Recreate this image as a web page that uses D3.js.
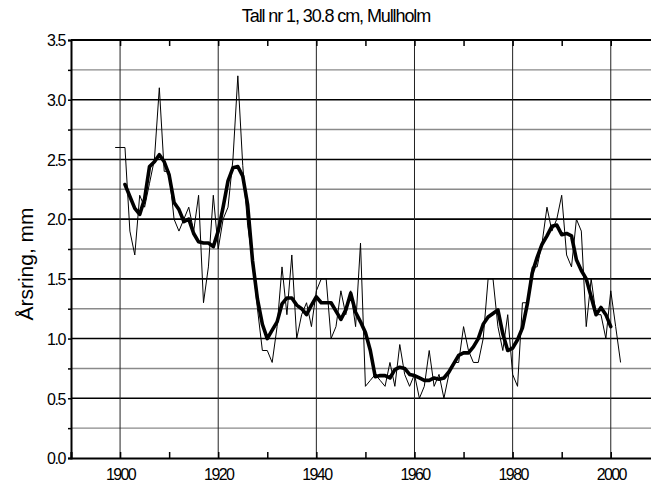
<!DOCTYPE html>
<html>
<head>
<meta charset="utf-8">
<script src="https://cdn.jsdelivr.net/npm/d3@7"></script>
<style>
  html, body { margin: 0; padding: 0; background: #fff; }
  svg { display: block; font-family: "Liberation Sans", Arial, sans-serif; }
</style>
</head>
<body>
<svg id="chart" width="651" height="484"></svg>
<script>
// Annual ring width (mm), first and last measured year
const ringStart = 1899;
const ringWidth = [
  2.6, 2.6, 2.6, 1.9, 1.7, 2.2, 2.1, 2.3, 2.5, 3.1,   // 1899-1908
  2.4, 2.4, 2.0, 1.9, 2.0, 2.1, 1.9, 2.2, 1.3, 1.6,   // 1909-1918
  2.2, 1.75, 2.0, 2.1, 2.5, 3.2, 2.45, 1.95, 1.65, 1.25, // 1919-1928
  0.9, 0.9, 0.8, 1.1, 1.6, 1.2, 1.7, 1.0, 1.2, 1.3,   // 1929-1938
  1.1, 1.4, 1.5, 1.5, 1.0, 1.1, 1.4, 1.2, 1.4, 1.1,   // 1939-1948
  1.8, 0.6, 0.65, 0.7, 0.65, 0.6, 0.8, 0.6, 0.95, 0.7, // 1949-1958
  0.6, 0.7, 0.5, 0.6, 0.9, 0.6, 0.7, 0.5, 0.7, 0.8,   // 1959-1968
  0.8, 1.1, 0.9, 0.8, 0.8, 1.0, 1.5, 1.5, 1.1, 0.9,   // 1969-1978
  1.2, 0.7, 0.6, 1.3, 1.3, 1.6, 1.6, 1.8, 2.1, 1.9,   // 1979-1988
  2.0, 2.2, 1.7, 1.6, 2.0, 1.9, 1.1, 1.5, 1.2, 1.2,   // 1989-1998
  1.0, 1.4, 1.1, 0.8                                  // 1999-2002
];

// Smoothed ring width (mm)
const smoothStart = 1901;
const smoothWidth = [
  2.29, 2.19, 2.09, 2.04, 2.17, 2.44, 2.48, 2.54, 2.48, 2.37, // 1901-1910
  2.14, 2.08, 1.98, 2.00, 1.88, 1.81, 1.80, 1.80, 1.77, 1.90, // 1911-1920
  2.10, 2.32, 2.43, 2.44, 2.36, 2.12, 1.65, 1.33, 1.12, 1.00, // 1921-1930
  1.07, 1.14, 1.29, 1.34, 1.34, 1.28, 1.25, 1.20, 1.28, 1.35, // 1931-1940
  1.30, 1.30, 1.30, 1.23, 1.16, 1.24, 1.38, 1.22, 1.14, 1.05, // 1941-1950
  0.90, 0.68, 0.69, 0.69, 0.67, 0.74, 0.76, 0.75, 0.70, 0.69, // 1951-1960
  0.67, 0.65, 0.65, 0.67, 0.66, 0.67, 0.72, 0.79, 0.86, 0.88, // 1961-1970
  0.88, 0.93, 1.00, 1.12, 1.18, 1.21, 1.24, 1.04, 0.90, 0.92, // 1971-1980
  0.99, 1.09, 1.29, 1.55, 1.68, 1.79, 1.86, 1.94, 1.95, 1.87, // 1981-1990
  1.88, 1.86, 1.66, 1.57, 1.50, 1.35, 1.20, 1.26, 1.20, 1.10  // 1991-2000
];

const yTicks = [0, 0.5, 1.0, 1.5, 2.0, 2.5, 3.0, 3.5];
const xTicks = [1900, 1920, 1940, 1960, 1980, 2000];
const title = "Tall nr 1, 30.8 cm, Mullholm";
const yTitle = "Årsring, mm";

(function () {
  const ring = ringWidth.map((v, i) => ({ year: ringStart + i, value: v }));
  const smooth = smoothWidth.map((v, i) => ({ year: smoothStart + i, value: v }));

  const svg = d3.select("#chart");
  const plotLeft = 71, plotTop = 40, plotBottom = 458;
  const x = d3.scaleLinear().domain([1890, 2010]).range([plotLeft, plotLeft + 120 * 4.907]);
  const y = d3.scaleLinear().domain([0, 3.5]).range([plotBottom, plotTop]);
  const plotRight = x.range()[1];

  // horizontal grid: every 0.25 mm, darker on the half-millimetres
  const hGrid = d3.range(0.25, 3.5, 0.25);
  const isHalf = d => Math.round(d * 4) % 2 === 0;
  svg.append("g").selectAll("line").data(hGrid).join("line")
    .attr("x1", plotLeft).attr("x2", plotRight)
    .attr("y1", d => y(d)).attr("y2", d => y(d))
    .attr("stroke", d => isHalf(d) ? "#000" : "#8a8a8a")
    .attr("stroke-width", d => isHalf(d) ? 1.6 : 1.4);

  // vertical grid on the labelled years
  svg.append("g").selectAll("line").data(xTicks).join("line")
    .attr("x1", d => x(d)).attr("x2", d => x(d))
    .attr("y1", plotTop).attr("y2", plotBottom)
    .attr("stroke", "#222").attr("stroke-width", 1);

  // top edge of the frame
  svg.append("line").attr("x1", plotLeft).attr("x2", plotRight)
    .attr("y1", plotTop).attr("y2", plotTop)
    .attr("stroke", "#000").attr("stroke-width", 2);

  // bottom axis with ticks every ten years and labels every twenty
  const xAxis = d3.axisBottom(x)
    .tickValues(d3.range(1900, 2011, 10))
    .tickSize(-6)
    .tickFormat(d => xTicks.includes(d) ? d : "");
  const gx = svg.append("g").attr("transform", `translate(0,${plotBottom})`).call(xAxis);
  gx.select(".domain").attr("stroke-width", 2.2);
  gx.selectAll(".tick line").attr("stroke-width", 1.5);
  gx.selectAll(".tick text")
    .attr("y", 22).attr("dy", 0)
    .attr("font-size", 16).attr("letter-spacing", -1.6)
    .attr("font-family", "Liberation Sans, Arial, sans-serif")
    .attr("fill", "#000");

  // matching inward ticks along the top edge
  const xTop = d3.axisTop(x).tickValues(d3.range(1900, 2011, 10)).tickSize(-6).tickFormat("");
  const gt = svg.append("g").attr("transform", `translate(0,${plotTop})`).call(xTop);
  gt.select(".domain").remove();
  gt.selectAll(".tick line").attr("stroke-width", 1.5);

  // left axis
  const yAxis = d3.axisLeft(y)
    .tickValues(d3.range(0, 3.51, 0.25))
    .tickSize(3)
    .tickFormat(d => yTicks.some(t => Math.abs(t - d) < 1e-6) ? d3.format(".1f")(d) : "");
  const gy = svg.append("g").attr("transform", `translate(${plotLeft},0)`).call(yAxis);
  gy.select(".domain").attr("stroke-width", 2);
  gy.selectAll(".tick line").attr("stroke-width", 1.5);
  gy.selectAll(".tick text")
    .attr("x", -6).attr("dy", "0.36em")
    .attr("font-size", 16).attr("letter-spacing", -1.4)
    .attr("font-family", "Liberation Sans, Arial, sans-serif")
    .attr("fill", "#000");

  // annual series (thin) and smoothed series (thick)
  const line = d3.line().x(d => x(d.year)).y(d => y(d.value));
  svg.append("path").datum(ring).attr("d", line)
    .attr("fill", "none").attr("stroke", "#000").attr("stroke-width", 1)
    .attr("stroke-linejoin", "miter");
  svg.append("path").datum(smooth).attr("d", line)
    .attr("fill", "none").attr("stroke", "#000").attr("stroke-width", 3.6)
    .attr("stroke-linejoin", "round").attr("stroke-linecap", "round");

  // titles
  svg.append("text").attr("x", 336).attr("y", 22)
    .attr("text-anchor", "middle").attr("font-size", 18).attr("letter-spacing", -1.1)
    .attr("fill", "#000").text(title);
  svg.append("text")
    .attr("transform", "translate(33,264) rotate(-90)")
    .attr("text-anchor", "middle").attr("font-size", 21)
    .attr("fill", "#000").text(yTitle);
})();
</script>
</body>
</html>
